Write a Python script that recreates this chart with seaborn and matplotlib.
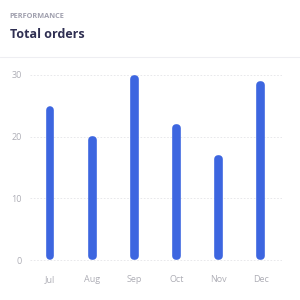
import matplotlib
matplotlib.use("Agg")
import matplotlib.pyplot as plt
import seaborn as sns
import pandas as pd

months = ["Jul", "Aug", "Sep", "Oct", "Nov", "Dec"]
orders = [25, 20, 30, 22, 17, 29]
yticks = [0, 10, 20, 30]

sns.set_theme(style="white")
plt.rcParams['font.family'] = ['Open Sans', 'DejaVu Sans']

df = pd.DataFrame({"month": months, "orders": orders})

fig = plt.figure(figsize=(3, 3), dpi=100)
fig.patch.set_facecolor("white")
ax = fig.add_axes([0.1, 35/300, 0.84, 195/300])

color = "#3d66e0"
lw = 5.5
sns.barplot(data=df, x="month", y="orders", ax=ax, color=color, width=0.02,
            saturation=1, edgecolor=color, linewidth=lw)

ax.set_ylim(-0.81, 30.81)
ax.set_xlim(-0.474, 5.5)

# shrink each bar so the rounded caps end at 0 and at the value
fig.canvas.draw()
px_per_unit = ax.transData.transform((0, 1))[1] - ax.transData.transform((0, 0))[1]
half = (lw / 2 * fig.dpi / 72) / px_per_unit
for p in ax.patches:
    p.set_joinstyle("round")
    p.set_capstyle("round")
    h = p.get_height()
    p.set_y(half)
    p.set_height(h - 2 * half)

ax.set_yticks(yticks)
ax.set_xlabel("")
ax.set_ylabel("")
for s in ax.spines.values():
    s.set_visible(False)
ax.tick_params(axis="both", length=0, labelsize=6.5, colors="#aeaeb6")
ax.tick_params(axis="y", pad=6)
ax.tick_params(axis="x", pad=7)
ax.yaxis.grid(True, color="#e4e4e8", linestyle=(0, (2, 2)), linewidth=0.6)
ax.set_axisbelow(True)

fig.text(9/300, 1 - 17/300, "PERFORMANCE", fontsize=5.3, color="#a0a0ae",
         fontweight="bold", va="center", ha="left")
fig.text(10/300, 1 - 34/300, "Total orders", fontsize=9, color="#2f2f52",
         fontweight="bold", va="center", ha="left")
fig.add_artist(plt.Line2D([0, 1], [1 - 57/300, 1 - 57/300], color="#eeeef2",
                          linewidth=0.8, transform=fig.transFigure))

fig.savefig("out.png", dpi=100, facecolor="white")
